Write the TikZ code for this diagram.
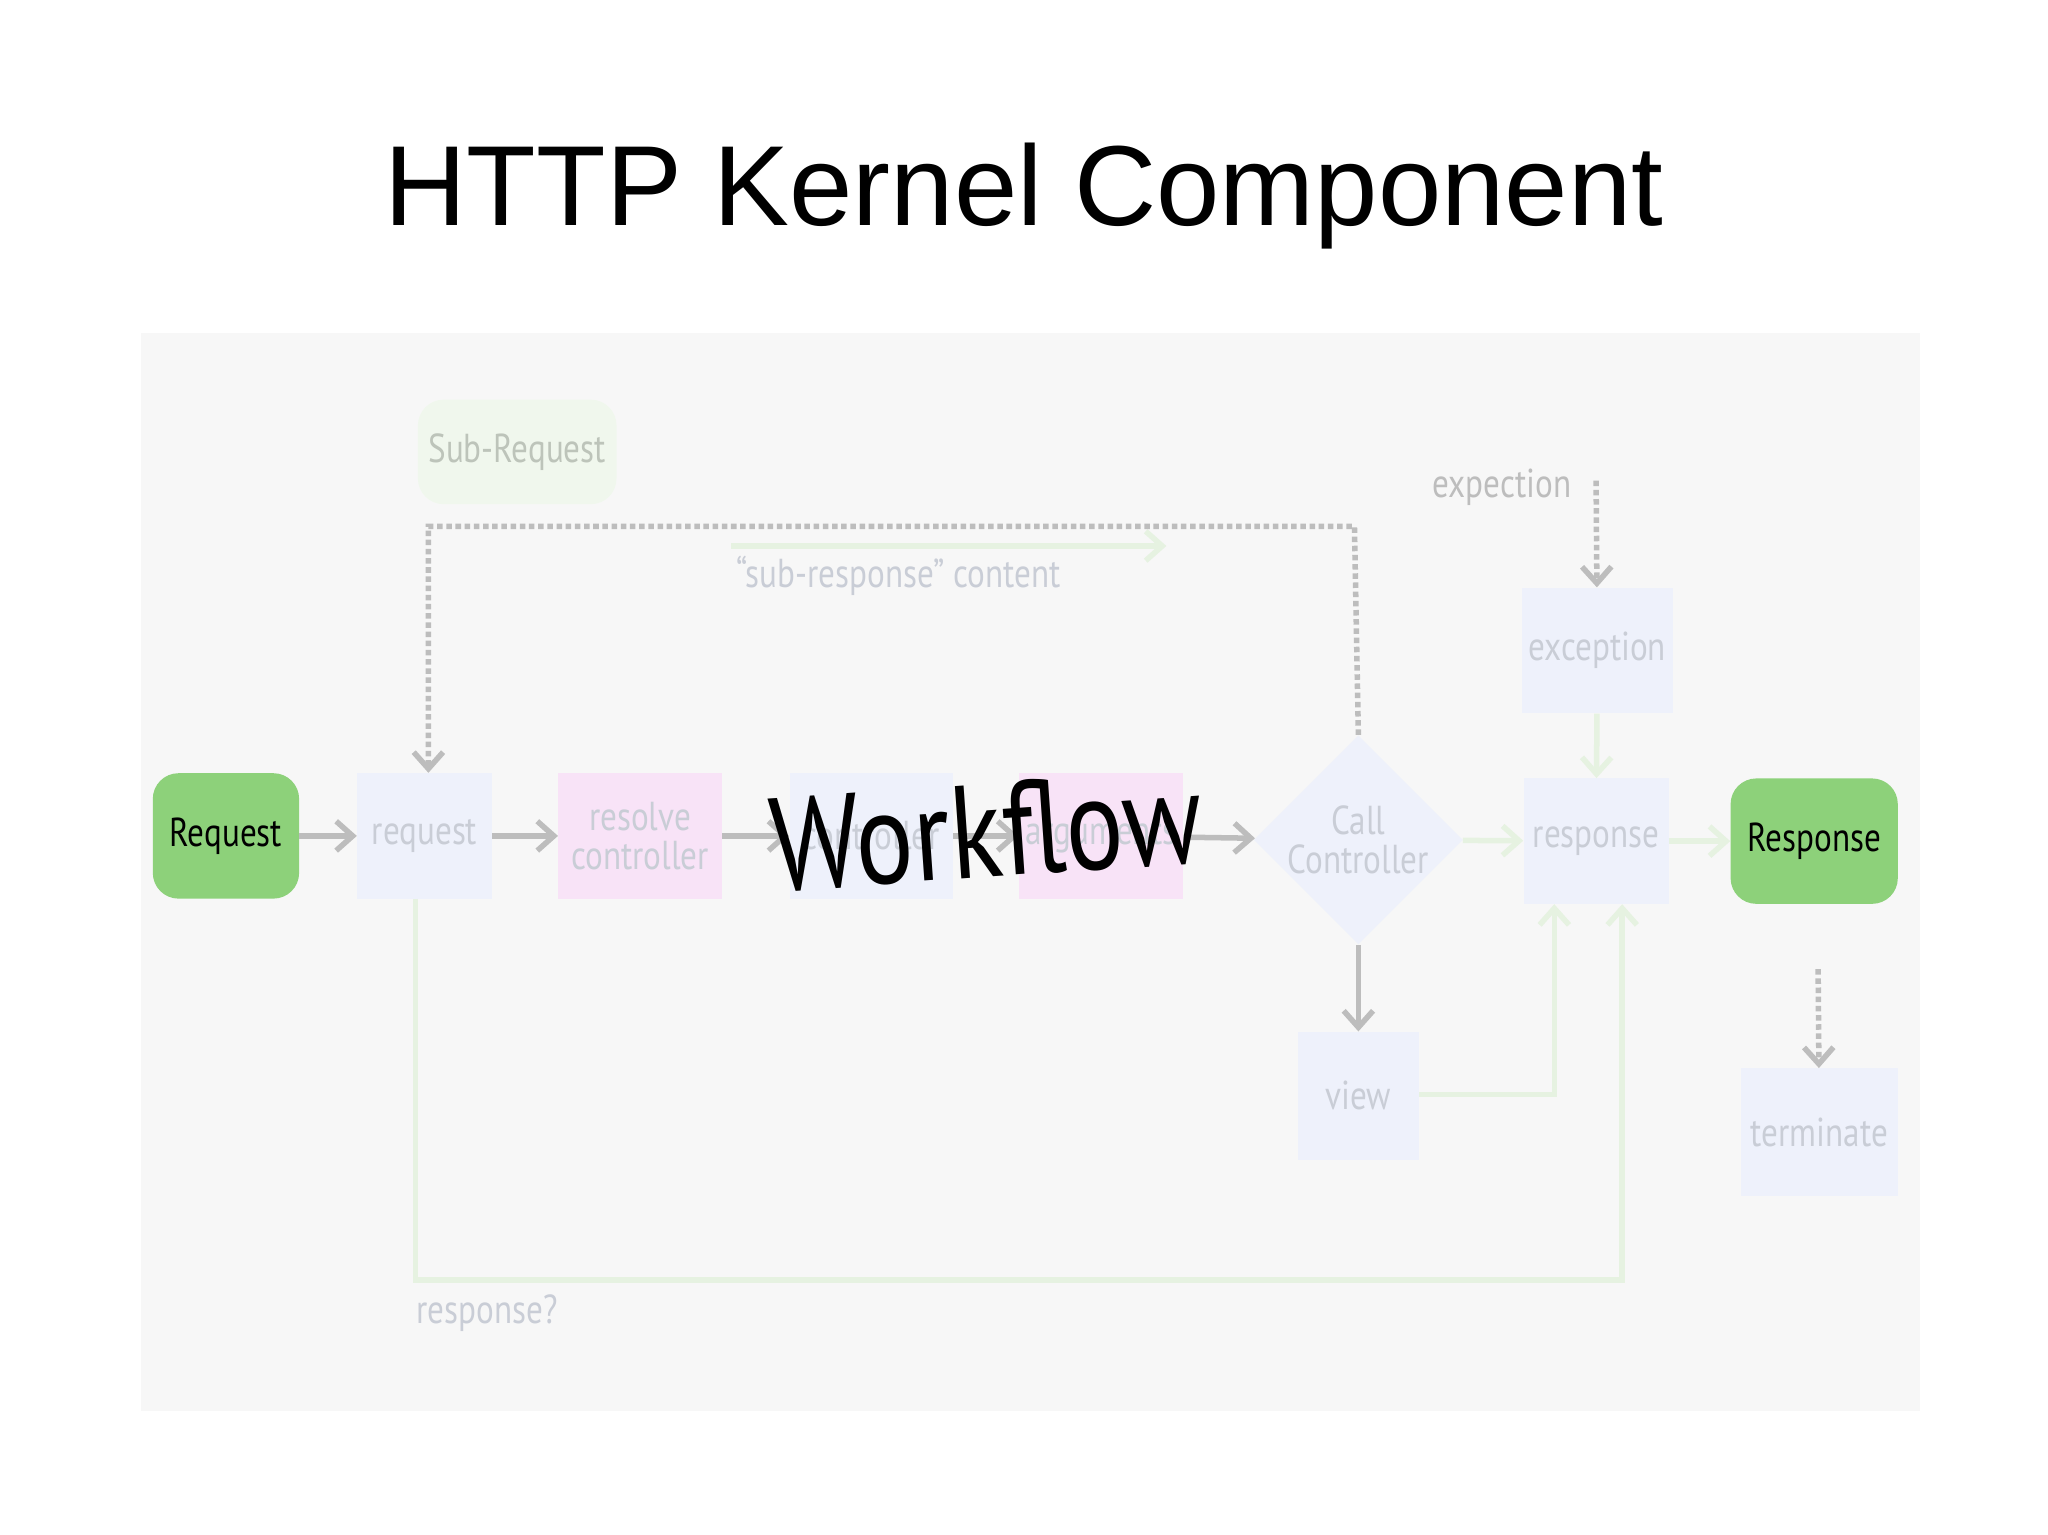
\documentclass[tikz,border=0pt]{standalone}
\usepackage{fontspec}
\setmainfont{Liberation Sans}
\newfontfamily\cond[FakeStretch=0.82]{PT Sans}
\usetikzlibrary{shapes.geometric,arrows.meta}
\definecolor{grn}{HTML}{8DD17A}
\definecolor{pb}{HTML}{EEF1FB}
\definecolor{pk}{HTML}{F8E3F7}
\definecolor{lg}{HTML}{E6F2E1}
\definecolor{gt}{HTML}{C9CDD6}
\definecolor{ga}{HTML}{BDBDBD}
\tikzset{
 x=0.025cm,y=-0.025cm,
 base/.style={draw=none,inner sep=1pt,align=center,font=\cond\fontsize{22}{21}\selectfont},
 green box/.style={base,fill=grn,rounded corners=14pt,text=black},
 blue box/.style={base,fill=pb,text=gt},
 pink box/.style={base,fill=pk,text=gt},
 garr/.style={draw=ga,line width=3pt,-{Straight Barb[length=9pt,width=16pt]}},
 larr/.style={draw=lg,line width=3pt,-{Straight Barb[length=9pt,width=16pt]}},
 darr/.style={draw=ga,line width=3pt,dotted,-{Straight Barb[length=9pt,width=16pt]}},
 lbl/.style={font=\cond\fontsize{22}{22}\selectfont,text=ga}
}
\begin{document}
\begin{tikzpicture}
\useasboundingbox (0,0) rectangle (1568,1175);
\fill[white] (0,0) rectangle (1568,1175);
\node at (784,150) {\fontsize{62}{62}\selectfont HTTP Kernel Component};
\fill[gray!6] (108,255) rectangle (1470,1080);
% nodes
\node[green box,minimum width=2.8cm,minimum height=2.4cm] (Req) at (173,640) {Request};
\node[blue box,minimum width=2.575cm,minimum height=2.4cm] (req) at (325,640) {request};
\node[pink box,minimum width=3.125cm,minimum height=2.4cm] (res) at (490,640) {resolve\\controller};
\node[blue box,minimum width=3.125cm,minimum height=2.4cm] (ctl) at (667,640) {controller};
\node[pink box,minimum width=3.15cm,minimum height=2.4cm] (arg) at (843,640) {arguments};
\node[diamond,fill=pb,minimum width=4cm,minimum height=3.3cm,inner sep=0pt,font=\cond\fontsize{22}{21}\selectfont,text=gt,align=center] (call) at (1040,643) {Call\\Controller};
\node[blue box,minimum width=2.775cm,minimum height=2.4cm] (resp) at (1222,644) {response};
\node[green box,minimum width=3.2cm,minimum height=2.4cm] (Resp) at (1389,644) {Response};
\node[blue box,minimum width=2.875cm,minimum height=2.4cm] (exc) at (1223,498) {exception};
\node[blue box,minimum width=2.325cm,minimum height=2.45cm] (view) at (1040,839) {view};
\node[blue box,minimum width=3cm,minimum height=2.45cm] (term) at (1393,867) {terminate};
\node[base,fill=lg!60,rounded corners=14pt,minimum width=3.8cm,minimum height=2cm,text=lg!60!gray] (sub) at (396,346) {Sub-Request};
\node[lbl] (expt) at (1150,373) {expection};
\node[lbl,text=gt] (subc) at (688,441) {“sub-response” content};
\node[lbl,text=gt] (rq) at (373,1005) {response?};
\coordinate (ex0) at (1222,368);
\coordinate (sc1) at (560,418); \coordinate (sc2) at (893,418);
\coordinate (d1) at (1037,403); \coordinate (d2) at (328,403);
\coordinate (b1) at (318,980); \coordinate (b2) at (1242,980);
\coordinate (v1) at (1190,838);
\coordinate (t0) at (1392,742);
% connectors
\draw[garr] (Req) -- (req);
\draw[garr] (req) -- (res);
\draw[garr] (res) -- (ctl);
\draw[garr] (ctl) -- (arg);
\draw[garr] (arg) -- (call);
\draw[larr] (call) -- (resp);
\draw[larr] (resp) -- (Resp);
\draw[larr] (exc) -- (resp);
\draw[garr] (call) -- (view);
\draw[darr] (ex0) -- (exc);
\draw[larr] (sc1) -- (sc2);
\draw[darr] (call.north) -- (d1) -- (d2) -- (req.north -| d2);
\draw[larr] (req.south -| b1) -- (b1) -- (b2) -- (resp.south -| b2);
\draw[larr] (view.east |- v1) -- (v1) -- (resp.south -| v1);
\draw[darr] (t0) -- (term);
\node[rotate=4,font=\cond\fontsize{72}{72}\selectfont] (wf) at (755,636) {Workflow};
\end{tikzpicture}
\end{document}
